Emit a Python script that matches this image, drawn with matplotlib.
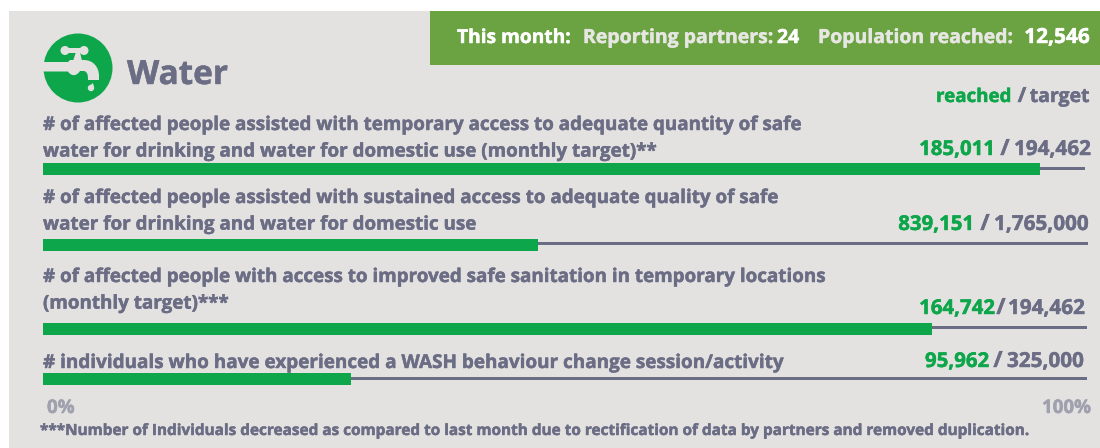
import matplotlib
matplotlib.use('Agg')
import matplotlib.pyplot as plt
import matplotlib.patheffects as pe
from matplotlib.path import Path
from matplotlib.patches import Circle, Rectangle, Polygon, PathPatch

plt.rcParams['font.family'] = ['Open Sans', 'DejaVu Sans']
plt.rcParams['font.weight'] = 'bold'

# === DATA ===
indicators = [
    "# of affected people assisted with temporary access to adequate quantity of safe\nwater for drinking and water for domestic use (monthly target)**",
    "# of affected people assisted with sustained access to adequate quality of safe\nwater for drinking and water for domestic use",
    "# of affected people with access to improved safe sanitation in temporary locations\n(monthly target)***",
    "# individuals who have experienced a WASH behaviour change session/activity",
]
reached_labels = ["185,011", "839,151", "164,742", "95,962"]
target_labels = ["194,462", "1,765,000", "194,462", "325,000"]
# share of the bar filled, as drawn in the picture
filled_share = [0.957, 0.475, 0.853, 0.296]
# the tracks do not all end at the same spot in the picture
track_share = [1.0, 1.003, 1.002, 1.002]

GREY = '#6b6d85'
GREEN = '#0da64a'
PANEL = '#e3e2e1'
HEADER = '#6ca342'
LIGHT = '#e6e6e2'

# layout in pixels
text_tops = [115, 188, 267, 353]
text_sizes = [13.55, 13.55, 13.55, 13.62]
bar_y = [169, 245, 329, 379]
track_y = [169, 244, 328, 379]
label_base = [155, 230, 314, 367]
reached_right = [995, 974, 995, 989]
slash_x = [1005, 985, 1001, 998]
target_left = [1014, 994, 1008, 1007]

fig = plt.figure(figsize=(11, 4.48), dpi=100)

# pixel canvas for panel, text and icon
ax = fig.add_axes([0, 0, 1, 1])
ax.set_xlim(0, 1100)
ax.set_ylim(448, 0)
ax.axis('off')


# the installed bold is lighter than the original, thicken it a bit
def label(x, y, s, color=GREY, size=14, **kw):
    kw.setdefault('va', 'baseline')
    return ax.text(x, y, s, color=color, fontsize=size,
                   path_effects=[pe.Stroke(linewidth=0.32), pe.Normal()], **kw)


ax.add_patch(Rectangle((9, 11), 1091, 437, color=PANEL, lw=0))
ax.add_patch(Rectangle((430, 11), 670, 54, color=HEADER, lw=0))

# header strip
label(457, 43, "This month:", 'white', 13.8)
label(583, 43, "Reporting partners:", LIGHT, 14)
label(777, 43, "24", 'white', 14)
label(818, 43, "Population reached:", LIGHT, 14)
label(1090, 43, "12,546", 'white', 15, ha='right')

# tap icon
ax.add_patch(Circle((78, 68), 34.5, color=GREEN, lw=0))
ax.add_patch(Circle((65, 50.5), 4.5, color=PANEL, lw=0))
ax.add_patch(Circle((84, 50.5), 4.5, color=PANEL, lw=0))
ax.add_patch(Rectangle((65, 48.5), 19, 4.5, color=PANEL, lw=0))
ax.add_patch(Polygon([(76, 52), (80, 52), (82, 61), (73, 61)], color=PANEL, lw=0))
body = Path(
    [(43, 62), (68, 62), (70, 60), (84, 60), (93, 60), (99, 67), (99, 76),
     (99, 80), (88, 80), (88, 80), (88, 76), (88, 72), (84, 71), (80, 71),
     (76, 77), (71, 76), (68, 71.5), (43, 71.5), (43, 62)],
    [Path.MOVETO, Path.LINETO, Path.LINETO, Path.LINETO, Path.CURVE4, Path.CURVE4, Path.CURVE4,
     Path.LINETO, Path.LINETO, Path.LINETO, Path.CURVE4, Path.CURVE4, Path.CURVE4, Path.LINETO,
     Path.CURVE4, Path.CURVE4, Path.LINETO, Path.LINETO, Path.CLOSEPOLY])
ax.add_patch(PathPatch(body, color=PANEL, lw=0))
ax.add_patch(Circle((91, 88), 3.2, color=PANEL, lw=0))
ax.add_patch(Polygon([(88.2, 87), (93, 83), (94, 87)], color=PANEL, lw=0))

label(127, 84, "Water", GREY, 24)

label(936, 102, "reached", GREEN, 13.5)
label(1022, 102, "/", GREY, 15, ha='center')
label(1090, 102, "target", GREY, 14, ha='right')

for i, name in enumerate(indicators):
    label(43, text_tops[i], name, GREY, text_sizes[i], va='top', linespacing=1.44)
    label(reached_right[i], label_base[i], reached_labels[i], GREEN, 14.7, ha='right')
    label(slash_x[i], label_base[i], "/", GREY, 16, ha='center')
    label(target_left[i], label_base[i], target_labels[i], GREY, 14.9)

label(47, 413, "0%", '#a0a1ae', 13.5)
label(1091, 413, "100%", '#a0a1ae', 13.5, ha='right')
label(40, 435, "***Number of Individuals decreased as compared to last month due to rectification of data by partners and removed duplication.",
      GREY, 11.05)

# bars: x runs 0..1 along the track
ax_bar = fig.add_axes([43 / 1100, 0, 1042 / 1100, 1])
ax_bar.set_xlim(0, 1)
ax_bar.set_ylim(448, 0)
ax_bar.axis('off')
ax_bar.patch.set_alpha(0)
ax_bar.barh(track_y, track_share, height=3, color=GREY, lw=0, clip_on=False)
ax_bar.barh(bar_y, filled_share, height=12, color=GREEN, lw=0)

fig.savefig('out.png', dpi=100, facecolor='white')
